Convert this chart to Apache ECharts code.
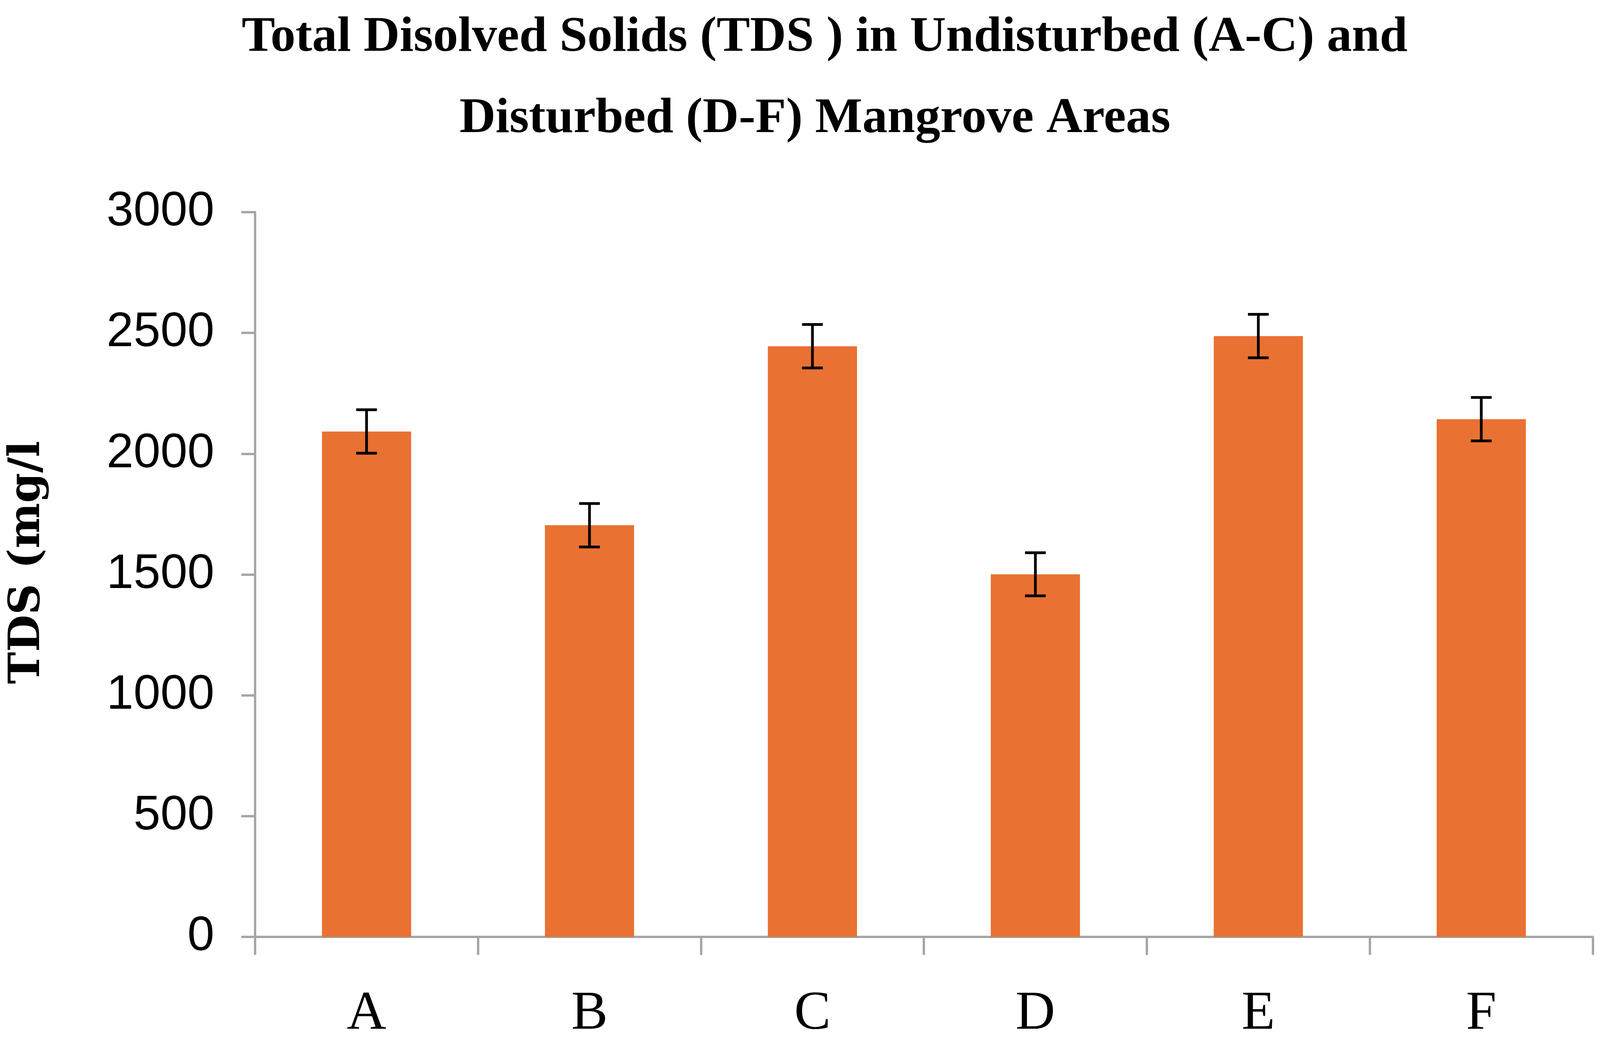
<!DOCTYPE html>
<html>
<head>
<meta charset="utf-8">
<script src="https://cdn.jsdelivr.net/npm/echarts@6/dist/echarts.min.js"></script>
<style>
html,body{margin:0;padding:0;background:#fff;overflow:hidden;}
#c{width:100vw;height:100vh;}
</style>
</head>
<body>
<div id="c"></div>
<script>
const categories = ['A', 'B', 'C', 'D', 'E', 'F'];
const tdsValues = [2092, 1704, 2445, 1501, 2487, 2143];
const tdsErrors = [90, 90, 90, 89, 90, 90];
const yTicks = [0, 500, 1000, 1500, 2000, 2500, 3000];
const titleLine1 = 'Total Disolved Solids (TDS ) in Undisturbed (A-C) and';
const titleLine2 = 'Disturbed (D-F) Mangrove Areas';
const yAxisName = 'TDS (mg/l';

const el = document.getElementById('c');
const W = el.clientWidth, H = el.clientHeight;
const sx = W / 4629, sy = H / 2667, sf = sy;

const ctx = document.createElement('canvas').getContext('2d');
function fitSize(text, family, weight, targetW) {
  ctx.font = weight + ' 100px ' + family;
  return 100 * targetW / ctx.measureText(text).width;
}
const serifT = '"Liberation Serif", serif';
const titleFs = fitSize(titleLine1, serifT, 'bold', 3373 * sx);

const chart = echarts.init(el, null, {renderer: 'canvas'});
const axisGrey = '#a6a6a6';

const errorData = categories.map((c, i) => [i, tdsValues[i] - tdsErrors[i], tdsValues[i] + tdsErrors[i]]);

const option = {
  backgroundColor: '#ffffff',
  animation: false,
  title: [
    {
      text: titleLine1, left: 2380 * sx, top: 92 * sy, textAlign: 'center', textVerticalAlign: 'middle',
      textStyle: {fontFamily: serifT, fontWeight: 'bold', fontSize: titleFs, color: '#000'}
    },
    {
      text: titleLine2, left: 2352 * sx, top: 300 * sy, textAlign: 'center', textVerticalAlign: 'middle',
      textStyle: {fontFamily: serifT, fontWeight: 'bold', fontSize: titleFs, color: '#000'}
    }
  ],
  grid: {left: 738 * sx, right: 21 * sx, top: 543 * sy, bottom: 269 * sy, containLabel: false},
  xAxis: {
    type: 'category',
    data: categories,
    boundaryGap: true,
    axisLine: {show: true, lineStyle: {color: axisGrey, width: 6 * sf}},
    axisTick: {show: true, alignWithLabel: false, length: 46 * sy, lineStyle: {color: axisGrey, width: 6 * sf}},
    axisLabel: {margin: 128 * sy, fontFamily: serifT, fontSize: 140 * sf, color: '#000'},
    splitLine: {show: false}
  },
  yAxis: {
    type: 'value',
    min: yTicks[0],
    max: yTicks[yTicks.length - 1],
    interval: yTicks[1] - yTicks[0],
    name: yAxisName,
    nameLocation: 'middle',
    nameGap: 595 * sx,
    nameTextStyle: {fontFamily: '"DejaVu Serif", serif', fontWeight: 'bold', fontSize: 110 * sf, color: '#000', padding: [0, 0, 0, 62 * sy]},
    axisLine: {show: true, lineStyle: {color: axisGrey, width: 6 * sf}},
    axisTick: {show: true, length: 40 * sx, lineStyle: {color: axisGrey, width: 6 * sf}},
    axisLabel: {
      margin: 118 * sx, fontFamily: '"Liberation Sans", Arial, sans-serif', fontSize: 124 * sf, color: '#000',
      formatter: function (v) { return String(v); }
    },
    splitLine: {show: false}
  },
  series: [
    {
      type: 'bar',
      data: tdsValues,
      barCategoryGap: '60%',
      itemStyle: {color: '#E97132'},
      z: 2
    },
    {
      type: 'custom',
      data: errorData,
      z: 5,
      renderItem: function (params, api) {
        const x = api.value(0);
        const lo = api.coord([x, api.value(1)]);
        const hi = api.coord([x, api.value(2)]);
        const half = 30 * sx;
        const style = {stroke: '#000', lineWidth: 7 * sf};
        return {
          type: 'group',
          children: [
            {type: 'line', shape: {x1: lo[0], y1: lo[1], x2: hi[0], y2: hi[1]}, style: style},
            {type: 'line', shape: {x1: hi[0] - half, y1: hi[1], x2: hi[0] + half, y2: hi[1]}, style: style},
            {type: 'line', shape: {x1: lo[0] - half, y1: lo[1], x2: lo[0] + half, y2: lo[1]}, style: style}
          ]
        };
      }
    }
  ]
};
chart.setOption(option);
</script>
</body>
</html>
